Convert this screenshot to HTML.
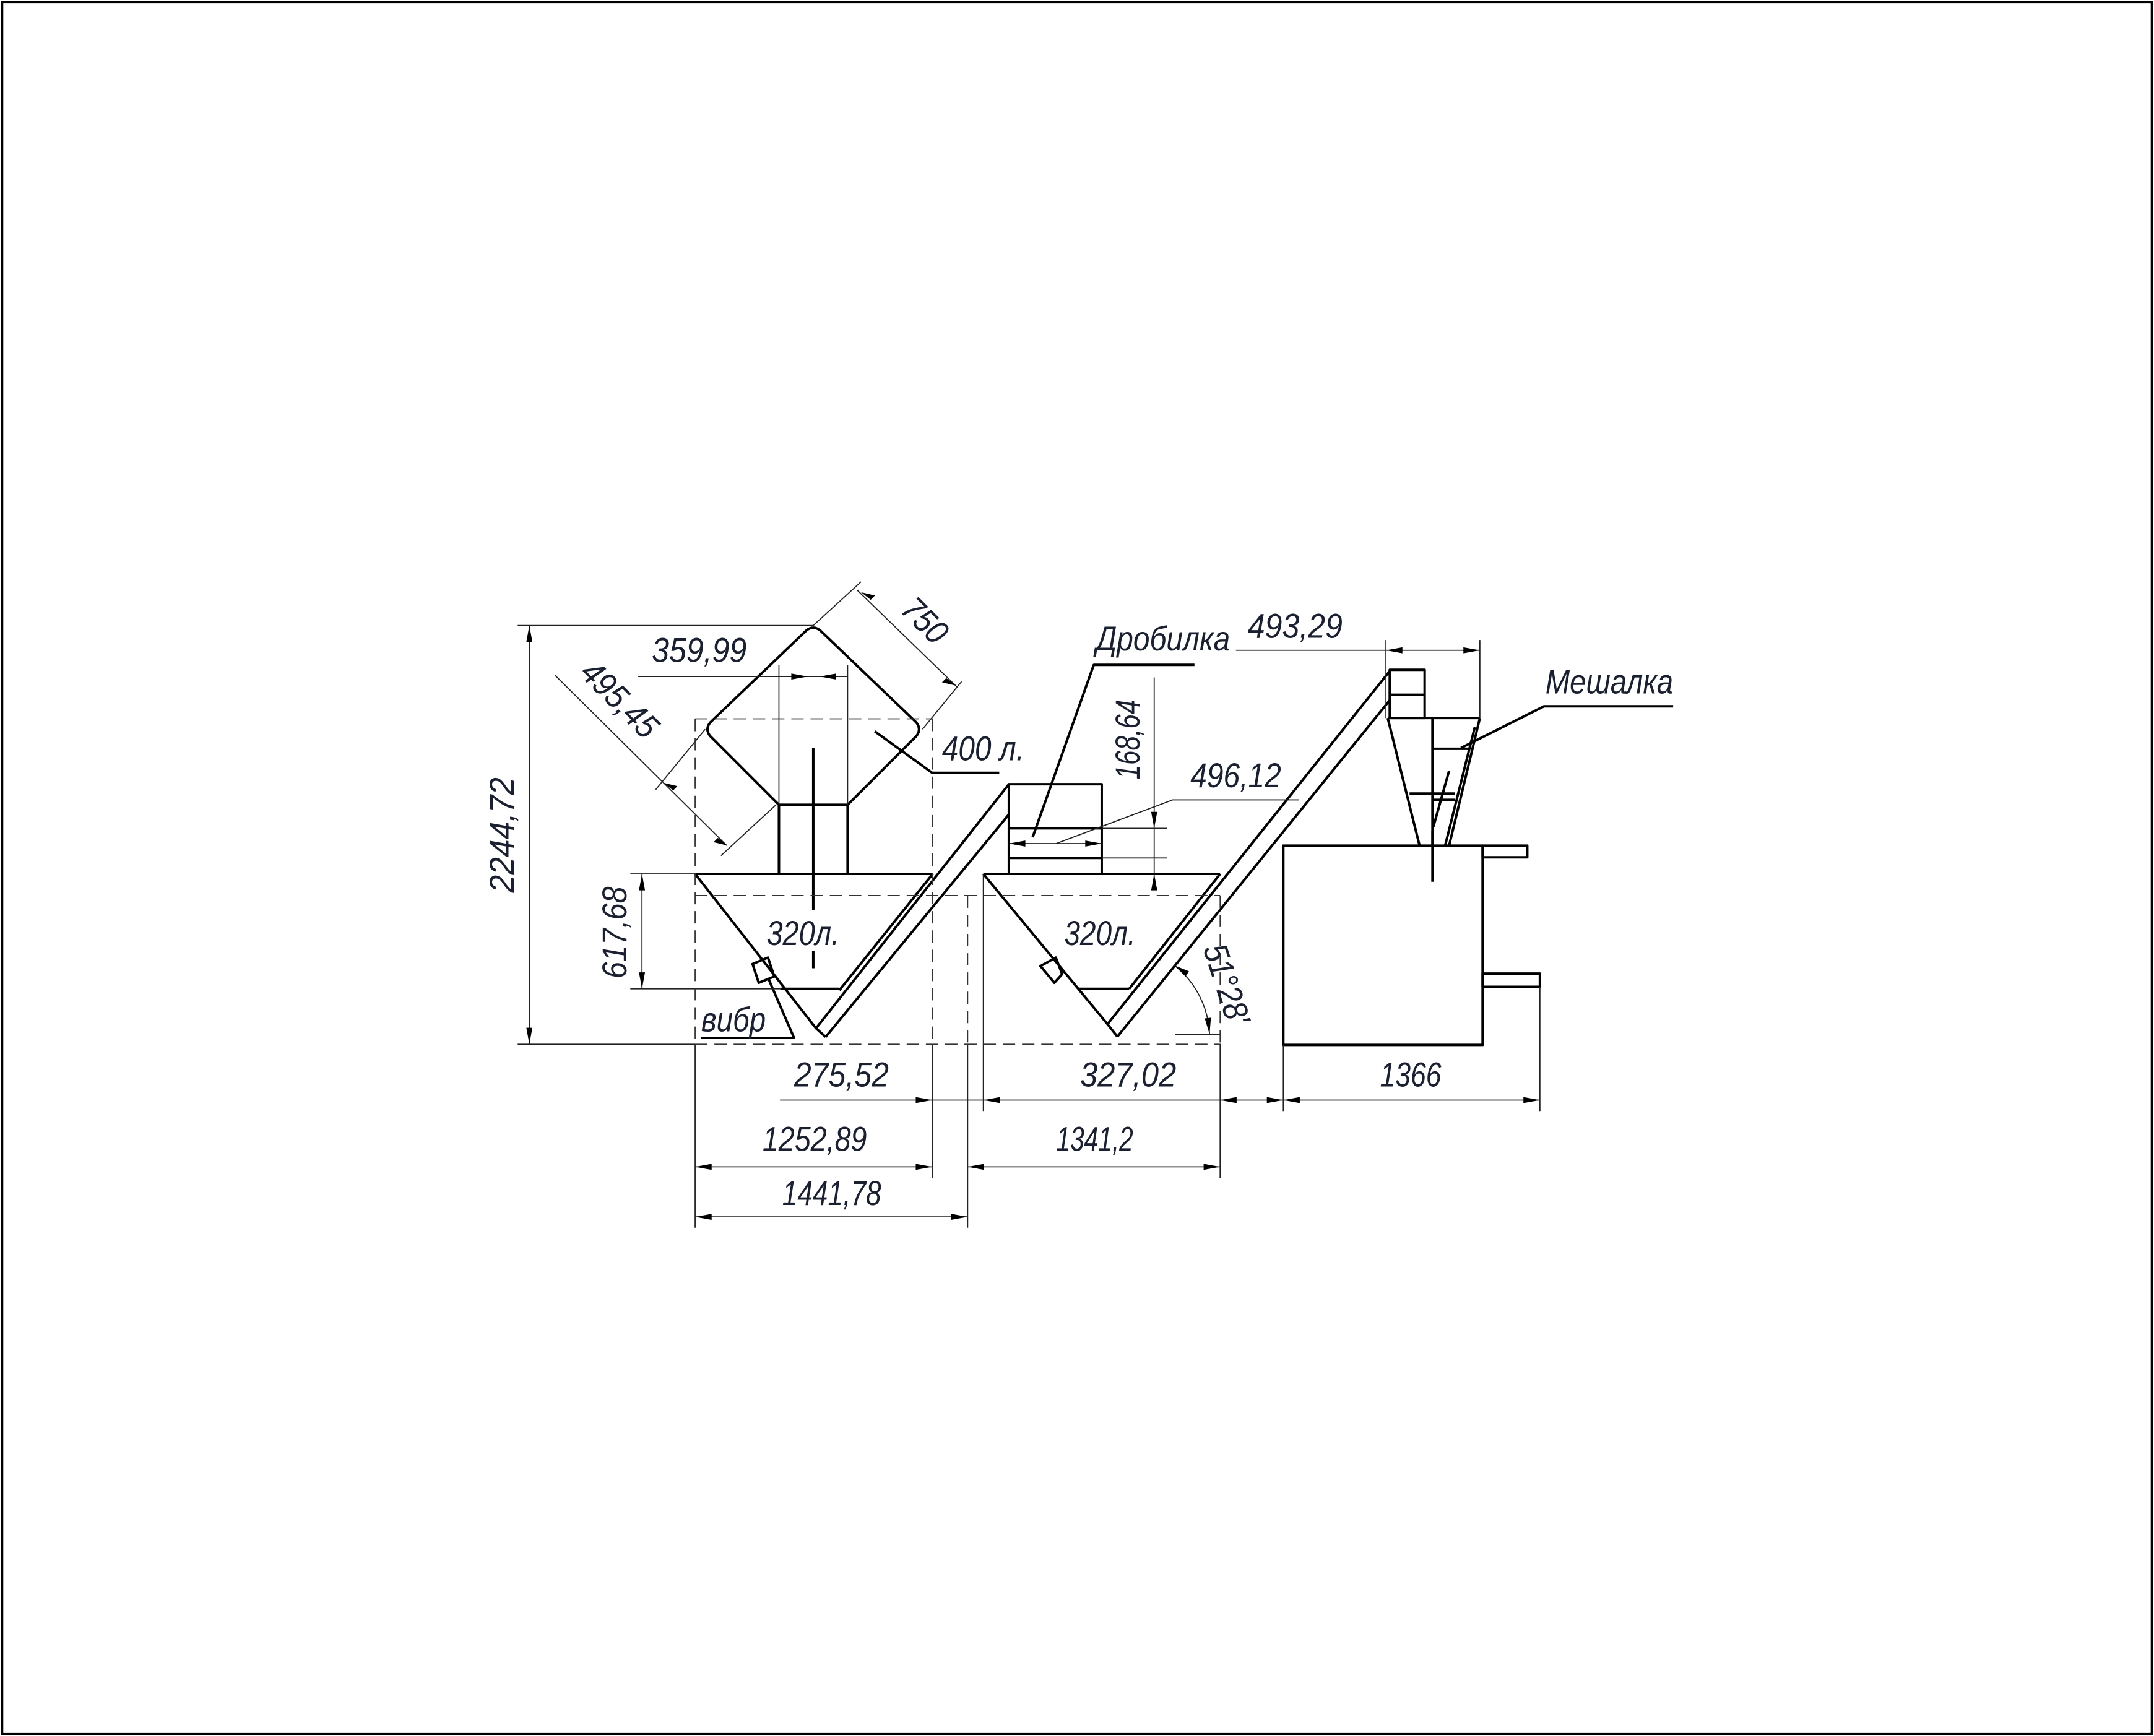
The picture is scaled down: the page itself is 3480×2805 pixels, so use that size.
<!DOCTYPE html>
<html><head><meta charset="utf-8"><style>
html,body{margin:0;padding:0;background:#fff;}
svg{display:block;}
text{font-family:"Liberation Sans Narrow","Liberation Sans",sans-serif;font-style:italic;fill:#1b2030;font-size:25px;}
</style></head><body>
<svg width="3480" height="2805" viewBox="0 0 1568 1264" xmlns="http://www.w3.org/2000/svg">
<rect x="0" y="0" width="1568" height="1264" fill="#fff"/>
<rect x="1.5" y="1.5" width="1565" height="1261" fill="none" stroke="#000" stroke-width="1.6"/>

<!-- thick geometry -->
<g fill="none" stroke="#000" stroke-width="1.8" stroke-linejoin="round">
  <!-- rotated bin 400 l -->
  <path d="M567,586 L517,536 Q513,531 517,526 L587,459 Q592,455 597,459 L667,526 Q671,531 667,536 L617,586 Z"/>
  <line x1="567" y1="586" x2="567" y2="636"/>
  <line x1="617" y1="586" x2="617" y2="636"/>
  <!-- hopper 1 -->
  <line x1="506" y1="636.3" x2="679" y2="636.3"/>
  <line x1="506" y1="636.3" x2="594" y2="748.7"/>
  <line x1="679" y1="636.3" x2="611" y2="721"/>
  <line x1="568" y1="720" x2="611" y2="720"/>
  <!-- tube 1 -->
  <line x1="594" y1="748.7" x2="734.4" y2="571"/>
  <line x1="601" y1="755" x2="734.4" y2="593"/>
  <line x1="594" y1="748.7" x2="601" y2="755"/>
  <!-- vibr 1 -->
  <polygon points="547.8,701.9 559,697.2 563.6,711 552.3,715.6"/>
  <!-- crusher -->
  <rect x="734.4" y="571" width="67.6" height="65.3"/>
  <line x1="734.4" y1="603.1" x2="802" y2="603.1"/>
  <line x1="734.4" y1="624.7" x2="802" y2="624.7"/>
  <!-- hopper 2 -->
  <line x1="715.8" y1="636.3" x2="888.2" y2="636.3"/>
  <line x1="715.8" y1="636.3" x2="806.2" y2="745.7"/>
  <line x1="888.2" y1="636.3" x2="822" y2="720"/>
  <line x1="784.7" y1="720" x2="822" y2="720"/>
  <polygon points="757.4,703.4 768.6,697.2 773.2,709.3 767.5,715.6"/>
  <!-- tube 2 -->
  <line x1="806.2" y1="745.7" x2="1011.7" y2="488.6"/>
  <line x1="813.4" y1="754.8" x2="1011.7" y2="509.8"/>
  <line x1="806.2" y1="745.7" x2="813.4" y2="754.8"/>
  <!-- cyclone -->
  <rect x="1011.7" y="487.7" width="25.4" height="35.1"/>
  <line x1="1011.7" y1="505.9" x2="1037.1" y2="505.9"/>
  <line x1="1010.2" y1="522.8" x2="1077.3" y2="522.8"/>
  <line x1="1010.2" y1="522.8" x2="1033.4" y2="615.7"/>
  <line x1="1042.8" y1="522.8" x2="1042.8" y2="615.7"/>
  <line x1="1077.3" y1="522.8" x2="1054.9" y2="615.7"/>
  <line x1="1073.6" y1="529.5" x2="1052" y2="615.7"/>
  <line x1="1042.8" y1="545.2" x2="1069.3" y2="545.2"/>
  <line x1="1026.1" y1="577.8" x2="1059.2" y2="577.8"/>
  <line x1="1042.8" y1="582.4" x2="1059.2" y2="582.4"/>
  <line x1="1054.9" y1="561.2" x2="1043.4" y2="602.1"/>
  <!-- mixer -->
  <rect x="934.2" y="615.7" width="145.1" height="145.1"/>
  <rect x="1079.3" y="615.7" width="32.5" height="8.5"/>
  <rect x="1079.3" y="708.9" width="41.7" height="9.6"/>
  <!-- center lines -->
  <line x1="592" y1="544.6" x2="592" y2="662.5"/>
  <line x1="592" y1="692.6" x2="592" y2="705"/>
  <line x1="1042.8" y1="605.1" x2="1042.8" y2="642"/>
  <!-- leaders -->
  <polyline points="636.8,532.5 678.6,562.7 727.4,562.7"/>
  <polyline points="751.7,609.6 796.2,484.1 869.5,484.1"/>
  <polyline points="1063.5,544.6 1123.9,514.3 1218,514.3"/>
  <polyline points="559.3,712.5 578,755.7 510.4,755.7"/>
</g>

<!-- thin lines -->
<g fill="none" stroke="#222" stroke-width="0.8">
  <line x1="385.3" y1="455.4" x2="385.3" y2="760.3"/>
  <line x1="376.8" y1="455.4" x2="592" y2="455.4"/>
  <line x1="376.8" y1="760.3" x2="506" y2="760.3"/>
  <line x1="467.3" y1="636.3" x2="467.3" y2="720"/>
  <line x1="458.8" y1="636.3" x2="506" y2="636.3"/>
  <line x1="458.8" y1="720" x2="568" y2="720"/>
  <line x1="464.4" y1="492.6" x2="617" y2="492.6"/>
  <line x1="567" y1="484" x2="567" y2="586"/>
  <line x1="617" y1="484" x2="617" y2="586"/>
  <line x1="404" y1="491.7" x2="529" y2="615.6"/>
  <line x1="513.3" y1="531" x2="477.3" y2="574.9"/>
  <line x1="565" y1="585.9" x2="524.8" y2="623"/>
  <line x1="624" y1="429.7" x2="697.2" y2="500.7"/>
  <line x1="592" y1="455.4" x2="626.8" y2="423.6"/>
  <line x1="671.5" y1="531" x2="700" y2="496.2"/>
  <line x1="678.6" y1="760" x2="678.6" y2="857.6"/>
  <line x1="506" y1="760" x2="506" y2="893.9"/>
  <line x1="704.4" y1="760" x2="704.4" y2="893.9"/>
  <line x1="715.8" y1="636.3" x2="715.8" y2="809"/>
  <line x1="888.2" y1="760" x2="888.2" y2="857.6"/>
  <line x1="934.2" y1="760.8" x2="934.2" y2="809"/>
  <line x1="1121" y1="718.5" x2="1121" y2="809"/>
  <line x1="567.8" y1="801" x2="1121" y2="801"/>
  <line x1="506" y1="849.6" x2="678.6" y2="849.6"/>
  <line x1="704.4" y1="849.6" x2="888.2" y2="849.6"/>
  <line x1="506" y1="886" x2="704.4" y2="886"/>
  <line x1="840.2" y1="493.2" x2="840.2" y2="645.9"/>
  <line x1="802" y1="603.1" x2="849.4" y2="603.1"/>
  <line x1="802" y1="624.7" x2="849.4" y2="624.7"/>
  <line x1="734.4" y1="614.2" x2="802" y2="614.2"/>
  <polyline points="768.8,614.2 853.7,582.4 945.7,582.4"/>
  <line x1="899.7" y1="473.5" x2="1077.3" y2="473.5"/>
  <line x1="1008.9" y1="466" x2="1008.9" y2="522.8"/>
  <line x1="1077.3" y1="466" x2="1077.3" y2="522.8"/>
  <line x1="855.2" y1="753.3" x2="888.2" y2="753.3"/>
  <path d="M855,703 A67.5,67.5 0 0 1 880.5,753"/>
</g>
<!-- dashed -->
<g fill="none" stroke="#333" stroke-width="0.8" stroke-dasharray="9,5">
  <line x1="506" y1="523.4" x2="679" y2="523.4"/>
  <line x1="506" y1="523.4" x2="506" y2="760"/>
  <line x1="678.6" y1="523.4" x2="678.6" y2="760"/>
  <line x1="506" y1="652" x2="888.2" y2="652"/>
  <line x1="506" y1="760.3" x2="888.2" y2="760.3"/>
  <line x1="704.4" y1="652" x2="704.4" y2="760"/>
  <line x1="888.2" y1="652" x2="888.2" y2="760"/>
</g>

<!-- arrowheads -->
<g fill="#000" stroke="none">
  <polygon points="385.3,455.4 383.1,467.4 387.5,467.4"/>
  <polygon points="385.3,760.3 383.1,748.3 387.5,748.3"/>
  <polygon points="467.3,636.3 465.1,648.3 469.5,648.3"/>
  <polygon points="467.3,720 465.1,708 469.5,708"/>
  <polygon points="588,492.6 576,490.4 576,494.8"/>
  <polygon points="596.7,492.6 608.7,490.4 608.7,494.8"/>
  <polygon points="483,570 490,575.5 493.1,572.4"/>
  <polygon points="529.5,615.6 522.5,610.1 519.4,613.2"/>
  <polygon points="626.8,431.2 633.8,436.7 636.9,433.6"/>
  <polygon points="695.8,499.2 688.8,493.7 685.7,496.8"/>
  <polygon points="840.2,603.1 838,591.1 842.4,591.1"/>
  <polygon points="840.2,636.3 838,648.3 842.4,648.3"/>
  <polygon points="734.4,614.2 746.4,612 746.4,616.4"/>
  <polygon points="802,614.2 790,612 790,616.4"/>
  <polygon points="1008.9,473.5 1020.9,471.3 1020.9,475.7"/>
  <polygon points="1077.3,473.5 1065.3,471.3 1065.3,475.7"/>
  <polygon points="678.6,801 666.6,798.8 666.6,803.2"/>
  <polygon points="716,801 728,798.8 728,803.2"/>
  <polygon points="888.2,801 900.2,798.8 900.2,803.2"/>
  <polygon points="934.2,801 922.2,798.8 922.2,803.2"/>
  <polygon points="934.2,801 946.2,798.8 946.2,803.2"/>
  <polygon points="1121,801 1109,798.8 1109,803.2"/>
  <polygon points="506,849.6 518,847.4 518,851.8"/>
  <polygon points="678.6,849.6 666.6,847.4 666.6,851.8"/>
  <polygon points="704.4,849.6 716.4,847.4 716.4,851.8"/>
  <polygon points="888.2,849.6 876.2,847.4 876.2,851.8"/>
  <polygon points="506,886 518,883.8 518,888.2"/>
  <polygon points="704.4,886 692.4,883.8 692.4,888.2"/>
  <polygon points="855,703 863,711 865.5,707.2"/>
  <polygon points="880.5,753 877,741.5 881.5,741"/>
</g>

<!-- text -->
<text x="474.5" y="482" textLength="69" lengthAdjust="spacingAndGlyphs">359,99</text>
<text x="685.7" y="553.7" textLength="60" lengthAdjust="spacingAndGlyphs">400 л.</text>
<text x="558" y="688" textLength="53" lengthAdjust="spacingAndGlyphs">320л.</text>
<text x="774.7" y="688" textLength="52" lengthAdjust="spacingAndGlyphs">320л.</text>
<text x="510.4" y="751" textLength="47" lengthAdjust="spacingAndGlyphs">вибр</text>
<text x="578" y="791" textLength="69" lengthAdjust="spacingAndGlyphs">275,52</text>
<text x="786.2" y="791" textLength="70" lengthAdjust="spacingAndGlyphs">327,02</text>
<text x="1004.6" y="791" textLength="44.6" lengthAdjust="spacingAndGlyphs">1366</text>
<text x="555" y="838" textLength="76" lengthAdjust="spacingAndGlyphs">1252,89</text>
<text x="768.9" y="838" textLength="56" lengthAdjust="spacingAndGlyphs">1341,2</text>
<text x="569.4" y="877.3" textLength="72" lengthAdjust="spacingAndGlyphs">1441,78</text>
<text x="797.8" y="473.5" textLength="97.6" lengthAdjust="spacingAndGlyphs">Дробилка</text>
<text x="908.3" y="464.4" textLength="69" lengthAdjust="spacingAndGlyphs">493,29</text>
<text x="866.6" y="573.3" textLength="66" lengthAdjust="spacingAndGlyphs">496,12</text>
<text x="1125" y="505" textLength="93" lengthAdjust="spacingAndGlyphs">Мешалка</text>
<text transform="translate(374,608) rotate(-90)" x="-42" y="0" textLength="84" lengthAdjust="spacingAndGlyphs">2244,72</text>
<text transform="translate(456,679) rotate(-90)" x="-33.5" y="0" textLength="67" lengthAdjust="spacingAndGlyphs">617,68</text>
<text transform="translate(829.5,538.5) rotate(-90)" x="-29" y="0" textLength="58" lengthAdjust="spacingAndGlyphs">168,64</text>
<text transform="translate(451.5,508.8) rotate(45)" x="-34" y="9" textLength="68" lengthAdjust="spacingAndGlyphs">495,45</text>
<text transform="translate(673.7,451.4) rotate(45)" x="-18" y="9" textLength="36" lengthAdjust="spacingAndGlyphs">750</text>
<text transform="translate(893.4,716.4) rotate(72)" x="-30" y="9" textLength="60" lengthAdjust="spacingAndGlyphs">51°28'</text>
</svg>
</body></html>
